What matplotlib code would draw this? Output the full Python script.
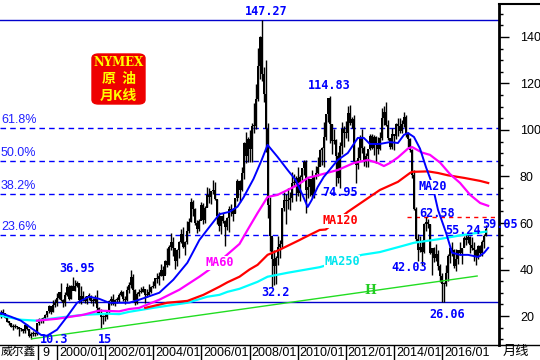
import numpy as np
import matplotlib.pyplot as plt
from matplotlib.patches import FancyBboxPatch
from matplotlib.lines import Line2D
from matplotlib.ticker import MultipleLocator

plt.rcParams['font.family'] = ['Liberation Sans', 'Noto Sans CJK SC', 'DejaVu Sans']

# months are counted from 2000/01 (= 0); first bar is 1997/09
first_month = -28

high = [22.7, 23.2, 21.5, 19.4,
        17.9, 17.2, 16.6, 16.5, 15.6, 15.3, 14.8, 14.3, 16.9, 16.6, 14.4, 13.2,
        13.4, 13.1, 16.8, 19.0, 19.3, 19.4, 20.8, 22.1, 24.8, 24.0, 26.8, 27.2,
        30.0, 30.4, 34.1, 27.3, 30.3, 34.0, 33.2, 33.3, 36.95, 35.7, 35.0, 34.3,
        32.9, 30.9, 28.5, 28.6, 29.7, 29.2, 27.6, 29.1, 31.2, 23.8, 22.8, 20.4,
        21.2, 21.9, 26.8, 28.4, 29.4, 27.4, 28.1, 29.9, 31.0, 30.7, 28.7, 32.8,
        34.6, 39.99, 38.0, 31.5, 30.4, 31.8, 32.4, 32.8, 31.5, 31.7, 33.8, 33.0,
        35.2, 36.5, 38.4, 38.8, 42.3, 41.4, 44.3, 49.4, 50.5, 55.7, 53.8, 47.3,
        49.0, 52.1, 57.6, 58.3, 52.3, 60.9, 62.1, 70.85, 70.0, 66.3, 61.3, 61.9,
        69.2, 68.4, 67.4, 75.4, 75.2, 73.9, 78.4, 77.8, 70.5, 64.6, 62.6, 64.3,
        61.5, 62.6, 67.2, 68.1, 66.6, 70.7, 78.8, 78.3, 83.9, 94.7, 99.3, 97.2,
        100.1, 103.0, 111.8, 119.9, 135.1, 140.4, 147.27, 127.0, 130.0, 103.0, 71.0, 54.0,
        48.6, 45.9, 54.6, 52.6, 66.6, 73.4, 72.3, 75.0, 73.4, 82.0, 81.0, 80.0,
        83.95, 80.5, 83.2, 87.15, 87.0, 79.6, 79.1, 82.9, 80.0, 84.4, 88.6, 92.0,
        92.6, 103.4, 106.9, 113.9, 114.83, 102.4, 100.6, 96.3, 90.5, 95.0, 103.4, 101.8,
        103.7, 110.5, 110.55, 105.5, 106.4, 86.9, 92.9, 97.7, 100.4, 93.2, 90.3, 91.2,
        98.2, 98.2, 97.8, 97.6, 97.2, 99.0, 109.3, 110.5, 112.24, 104.1, 95.9, 100.8,
        98.3, 103.2, 105.2, 105.2, 104.4, 107.7, 106.4, 99.2, 96.6, 91.8, 82.9, 67.0,
        55.1, 54.2, 52.5, 59.9, 62.58, 61.9, 59.7, 49.4, 49.8, 50.9, 48.4, 42.5,
        38.4, 34.7, 41.9, 46.8, 50.2, 51.7, 49.0, 48.8, 48.4, 51.9, 49.2, 54.5,
        55.24, 54.9, 54.6, 53.8, 52.0, 48.9, 50.4, 50.4, 52.9, 55.2, 59.05]

low = [19.3, 20.5, 19.0, 17.5,
       16.1, 15.2, 13.8, 14.9, 14.2, 11.4, 13.5, 12.8, 12.9, 13.8, 10.9, 10.3,
       11.3, 11.5, 12.0, 16.0, 17.0, 16.8, 18.9, 19.4, 21.5, 20.8, 21.9, 24.0,
       24.2, 27.1, 26.5, 23.9, 24.5, 28.6, 26.7, 27.1, 31.2, 30.7, 32.4, 25.6,
       25.1, 26.6, 25.5, 25.1, 26.8, 25.8, 24.5, 25.8, 21.3, 20.8, 15.0, 16.7,
       17.9, 18.8, 21.1, 24.9, 24.9, 24.2, 25.7, 26.1, 28.6, 26.6, 25.1, 26.5,
       29.9, 32.0, 26.8, 24.6, 25.1, 28.6, 29.7, 30.5, 25.8, 28.1, 28.6, 29.8,
       32.0, 32.2, 34.4, 33.5, 37.1, 35.5, 37.9, 41.1, 42.0, 48.4, 45.7, 40.3,
       41.3, 45.0, 51.6, 49.2, 46.2, 51.0, 55.6, 60.5, 63.0, 59.0, 55.8, 56.4,
       61.1, 59.5, 59.8, 66.7, 68.6, 68.0, 72.3, 70.1, 59.5, 56.6, 55.3, 60.2,
       49.9, 57.1, 56.3, 62.9, 61.0, 64.3, 69.5, 69.0, 73.9, 79.1, 86.0, 86.3,
       86.1, 86.1, 98.6, 100.5, 112.3, 122.0, 121.0, 112.0, 90.5, 62.0, 48.0, 32.6,
       33.2, 33.6, 41.8, 45.0, 49.3, 65.2, 59.5, 66.2, 65.6, 69.2, 76.0, 69.5,
       71.8, 69.5, 77.8, 80.6, 64.2, 70.8, 71.6, 70.8, 70.8, 79.0, 80.2, 84.7,
       85.1, 83.9, 95.5, 103.4, 94.6, 89.6, 93.8, 75.7, 77.1, 74.95, 89.8, 92.5,
       96.5, 95.4, 102.0, 100.7, 86.2, 77.3, 83.4, 87.3, 90.0, 84.6, 84.1, 84.3,
       91.5, 92.0, 89.3, 85.6, 89.6, 91.4, 95.8, 102.2, 101.7, 95.9, 91.8, 92.0,
       91.2, 96.0, 97.4, 98.6, 98.9, 101.3, 97.2, 92.5, 90.4, 79.4, 65.7, 52.4,
       43.6, 47.4, 42.03, 47.1, 56.5, 58.0, 46.7, 37.75, 43.2, 43.6, 39.7, 34.5,
       26.2, 26.06, 32.9, 35.2, 43.0, 45.8, 40.6, 39.2, 42.5, 46.1, 42.2, 49.5,
       50.7, 51.2, 47.1, 48.2, 43.8, 42.05, 44.6, 45.6, 45.6, 49.1, 54.2]

close = [21.2, 21.1, 19.2, 17.6,
         17.2, 15.4, 15.6, 15.4, 15.2, 14.2, 14.2, 13.4, 16.1, 14.4, 11.2, 12.1,
         12.8, 12.3, 16.8, 18.7, 17.9, 19.3, 20.5, 22.1, 24.5, 21.8, 24.6, 25.6,
         27.6, 30.4, 26.9, 25.7, 29.0, 32.5, 27.4, 33.1, 30.8, 32.7, 34.4, 26.8,
         28.7, 27.4, 26.3, 28.5, 28.4, 26.3, 26.4, 27.2, 23.4, 21.2, 19.4, 19.8,
         19.5, 21.7, 26.3, 27.3, 25.3, 26.9, 27.0, 28.9, 30.5, 27.2, 26.9, 31.2,
         33.5, 36.6, 31.0, 25.8, 29.6, 30.2, 30.5, 31.6, 29.2, 29.1, 30.4, 32.5,
         33.1, 36.2, 35.8, 37.4, 39.9, 37.1, 43.8, 42.1, 49.6, 51.8, 49.1, 43.5,
         48.2, 51.8, 55.4, 49.7, 52.0, 56.5, 60.6, 68.9, 66.2, 59.8, 57.3, 61.0,
         67.9, 61.4, 66.6, 71.9, 71.3, 73.9, 74.4, 70.3, 62.9, 58.7, 63.1, 61.05,
         58.1, 62.0, 65.9, 65.7, 64.0, 70.7, 78.2, 74.0, 81.7, 94.5, 88.7, 96.0,
         91.8, 101.8, 101.6, 113.5, 127.4, 140.0, 124.1, 115.5, 100.6, 67.8, 54.4, 44.6,
         41.7, 44.8, 49.7, 51.1, 66.3, 69.9, 69.5, 70.0, 70.6, 77.0, 77.3, 79.4,
         72.9, 79.7, 83.8, 86.2, 74.0, 75.6, 78.95, 71.9, 80.0, 81.4, 84.1, 91.4,
         92.2, 97.0, 106.7, 113.9, 102.7, 95.4, 95.7, 88.8, 79.2, 93.2, 100.4, 98.8,
         98.5, 107.1, 103.0, 104.9, 86.5, 85.0, 88.1, 96.5, 92.2, 86.2, 88.9, 91.8,
         97.5, 92.1, 97.2, 93.5, 92.0, 96.6, 105.0, 107.7, 102.3, 96.4, 92.7, 98.4,
         97.5, 102.6, 101.6, 99.7, 102.7, 105.4, 98.2, 96.0, 91.2, 80.5, 66.2, 53.3,
         48.2, 49.8, 47.6, 59.6, 60.3, 59.5, 47.1, 49.2, 45.1, 46.6, 41.7, 37.0,
         33.6, 33.8, 38.3, 45.9, 49.1, 48.3, 41.6, 44.7, 48.2, 46.9, 49.4, 53.7,
         52.8, 54.0, 50.6, 49.3, 48.3, 46.0, 50.2, 47.2, 51.7, 54.4, 57.4]

# moving averages
ma20_m = [-28, -23, -18, -13, -8, -5, 0, 5, 10, 16, 21, 26, 31, 36, 41, 51, 58, 65, 71, 76, 81, 86,
          90, 93, 98, 102, 105, 110, 115, 119, 122, 125, 127, 130, 133, 140, 145, 150, 153, 156,
          161, 166, 170, 173, 175, 178, 181, 184, 187, 190, 194, 197, 201, 205, 210, 213, 215]
ma20_v = [21.2, 19.7, 18.0, 14.9, 11.9, 11.5, 14.1, 19.7, 25.7, 28.3, 27.4, 25.7, 25.7, 25.7, 27.0,
          30.0, 35.6, 42.9, 52.7, 58.3, 63.8, 64.8, 67.0, 71.0, 79.0, 87.0, 93.6, 88.4, 82.8, 78.5,
          72.9, 66.9, 69.9, 75.5, 79.8, 87.1, 90.1, 96.6, 96.6, 94.0, 94.0, 94.8, 94.4, 97.9, 98.7,
          97.0, 92.0, 84.0, 77.0, 65.6, 55.8, 47.2, 46.3, 46.3, 45.4, 47.2, 49.3]

ma60_m = [-10, 0, 13, 21, 31, 36, 41, 51, 61, 71, 78, 85, 91, 95, 100, 105, 110, 115, 120, 125,
          131, 140, 148, 155, 160, 163, 166, 170, 175, 177, 182, 186, 191, 196, 201, 206, 211, 215]
ma60_v = [18.0, 18.8, 20.5, 22.3, 22.0, 23.0, 23.5, 27.0, 31.3, 36.9, 41.2, 46.5, 51.0, 57.0, 64.3,
          71.2, 72.1, 74.2, 76.4, 79.4, 80.7, 82.8, 85.8, 87.1, 85.8, 84.5, 85.8, 88.2, 92.0, 92.7,
          90.3, 89.3, 86.0, 81.0, 77.2, 72.1, 68.6, 67.4]

ma120_m = [44, 55, 65, 73, 81, 85, 91, 96, 100, 105, 111, 116, 121, 123, 131, 134, 145, 161,
           170, 176, 177, 185, 190, 195, 203, 211, 215]
ma120_v = [23.5, 25.7, 26.5, 29.1, 32.6, 34.5, 36.9, 40.0, 42.0, 46.3, 48.5, 50.6, 52.7, 53.6,
           57.0, 57.2, 64.8, 74.2, 77.7, 81.5, 82.0, 82.2, 81.5, 80.5, 79.4, 78.1, 77.2]

ma250_m = [-28, -18, -10, 0, 13, 25, 31, 36, 48, 65, 75, 81, 85, 91, 100, 105, 115, 131, 152,
           161, 173, 178, 190, 202, 214]
ma250_v = [20.1, 18.4, 18.0, 19.2, 20.5, 21.0, 20.8, 21.8, 23.5, 25.7, 28.3, 29.1, 30.4, 31.7,
           34.7, 36.9, 38.6, 41.0, 46.3, 47.5, 50.3, 51.5, 53.0, 54.8, 56.3]

# support line "H"
h_m = [-12.5, 209.5]
h_v = [10.2, 37.2]

top_price = 147.27
bottom_price = 26.06
fib_levels = [0.618, 0.5, 0.382, 0.236]
fib_labels = ['61.8%', '50.0%', '38.2%', '23.6%']
resist_price = 62.58

year_ticks = list(range(0, 193, 24))
year_labels = ['2000/01', '2002/01', '2004/01', '2006/01', '2008/01',
               '2010/01', '2012/01', '2014/01', '2016/01']

# (label, month, price, dx px, dy px)
price_notes = [('147.27', 102, 147.27, 5, 9), ('114.83', 136, 114.83, 0, 10),
               ('36.95', 8, 36.95, 4, 8), ('10.3', -13, 10.3, 23, -1),
               ('15', 22, 15.0, 4, -12), ('32.2', 107, 32.6, 4, -6),
               ('74.95', 141, 74.95, 0, -4), ('42.03', 182, 42.03, -13, -3),
               ('62.58', 184, 62.58, 11, 4), ('55.24', 204, 55.24, -3, 4),
               ('59.05', 214, 59.05, 14, 1), ('26.06', 193, 26.06, 3, -13)]

BLUE = '#0000ff'

fig = plt.figure(figsize=(5.4, 3.6), dpi=100)
ax = fig.add_axes([0, 15 / 360, 499 / 540, 341 / 360])
ax.set_xlim(-28.43, 220.4)
ax.set_ylim(7.53, 154.19)

# fibonacci retracement lines
rng = top_price - bottom_price
for lev, lab in zip(fib_levels, fib_labels):
    yv = bottom_price + lev * rng
    ax.axhline(yv, color=BLUE, lw=1, ls=(0, (4, 3)), zorder=1)
    ax.annotate(lab, xy=(0, yv), xycoords=('axes fraction', 'data'), xytext=(1, 8),
                textcoords='offset pixels', ha='left', va='center', fontsize=9, color='#2020ff')
ax.axhline(top_price, color='#0000cc', lw=1, zorder=1)
ax.axhline(bottom_price, color='#0000cc', lw=1, zorder=1)
ax.plot([174.6, 220.4], [resist_price, resist_price], color='red', lw=1, ls=(0, (3, 3)), zorder=1)

# candles
months = np.arange(first_month, first_month + len(close))
cl = np.array(close)
op = np.r_[20.6, cl[:-1]]
body_lo = np.minimum(op, cl)
body_h = np.maximum(np.abs(cl - op), 0.5)
ax.vlines(months, low, high, color='black', lw=1.0, zorder=2)
ax.bar(months, body_h, bottom=body_lo, width=1.0, color='black', linewidth=0, zorder=2)

# moving averages and trend line
ax.plot(h_m, h_v, color='#22dd22', lw=1, zorder=3)
ax.plot(ma250_m, ma250_v, color='#00ffff', lw=1.6, zorder=3)
ax.plot(ma120_m, ma120_v, color='#ff0000', lw=1.6, zorder=3)
ax.plot(ma60_m, ma60_v, color='#ff00ff', lw=1.6, zorder=3)
ax.plot(ma20_m, ma20_v, color='#0000ff', lw=1.4, zorder=3)

mono = dict(family='DejaVu Sans Mono', weight='bold', fontsize=8.5)
box = dict(facecolor='white', edgecolor='none', pad=0.3)
ax.text(81.3, 42.9, 'MA60', color='#ff00ff', ha='center', va='center', zorder=4, bbox=box, **mono)
ax.text(141.1, 60.9, 'MA120', color='#ff0000', ha='center', va='center', zorder=4, bbox=box, **mono)
ax.text(142.1, 43.3, 'MA250', color='#00e5ee', ha='center', va='center', zorder=4, bbox=box, **mono)
ax.text(187.5, 75.5, 'MA20', color='#0000ff', ha='center', va='center', zorder=4, bbox=box, **mono)
ax.text(156.1, 30.8, 'H', color='#22cc22', ha='center', va='center', zorder=4,
        family='DejaVu Serif', weight='bold', fontsize=9)

for lab, m, p, dx, dy in price_notes:
    ax.annotate(lab, xy=(m, p), xytext=(dx, dy), textcoords='offset pixels',
                ha='center', va='center', color=BLUE, zorder=5, annotation_clip=False, **mono)

# axes frame
for s in ['left', 'top']:
    ax.spines[s].set_visible(False)
ax.spines['right'].set_linewidth(2)
ax.spines['bottom'].set_linewidth(1)

ax.yaxis.tick_right()
ax.set_yticks(range(20, 141, 20))
ax.yaxis.set_minor_locator(MultipleLocator(5))
ax.tick_params(axis='y', which='major', length=7, width=1, labelsize=9, pad=8)
ax.tick_params(axis='y', which='minor', length=3, width=1)

ax.set_xticks(year_ticks)
ax.set_xticklabels([])
ax.tick_params(axis='x', length=11, width=1, direction='out')
for m, lab in zip(year_ticks, year_labels):
    ax.annotate(lab, xy=(m, 0), xycoords=('data', 'axes fraction'), xytext=(2, -2),
                textcoords='offset pixels', ha='left', va='top', fontsize=9, annotation_clip=False)

# bottom row and right panel borders
fig.add_artist(Line2D([499 / 540, 1], [15 / 360, 15 / 360], color='black', lw=1))
fig.add_artist(Line2D([499 / 540, 1], [356 / 360, 356 / 360], color='black', lw=1.5))
fig.add_artist(Line2D([38 / 540, 38 / 540], [0, 15 / 360], color='black', lw=1))
fig.text(1 / 540, 8 / 360, '威尔鑫', fontsize=8.5, ha='left', va='center')
fig.text(42 / 540, 7 / 360, '9', fontsize=9, ha='left', va='center')
fig.text(503 / 540, 8 / 360, '月线', fontsize=9.5, ha='left', va='center')

# title badge
fig.add_artist(FancyBboxPatch((92 / 540, 256 / 360), 53 / 540, 50 / 360,
                              boxstyle='round,pad=0,rounding_size=0.012',
                              facecolor='#ee0000', edgecolor='#ee0000'))
fig.text(118.5 / 540, 298 / 360, 'NYMEX', color='#ffff00', ha='center', va='center',
         family='DejaVu Serif', weight='bold', fontsize=8.5)
fig.text(118.5 / 540, 281 / 360, '原  油', color='#ffff00', ha='center', va='center',
         family=['Noto Sans CJK SC'], weight='bold', fontsize=10)
fig.text(118.5 / 540, 264 / 360, '月K线', color='#ffff00', ha='center', va='center',
         family=['Noto Sans CJK SC'], weight='bold', fontsize=10)

fig.savefig('out.png', dpi=100)
